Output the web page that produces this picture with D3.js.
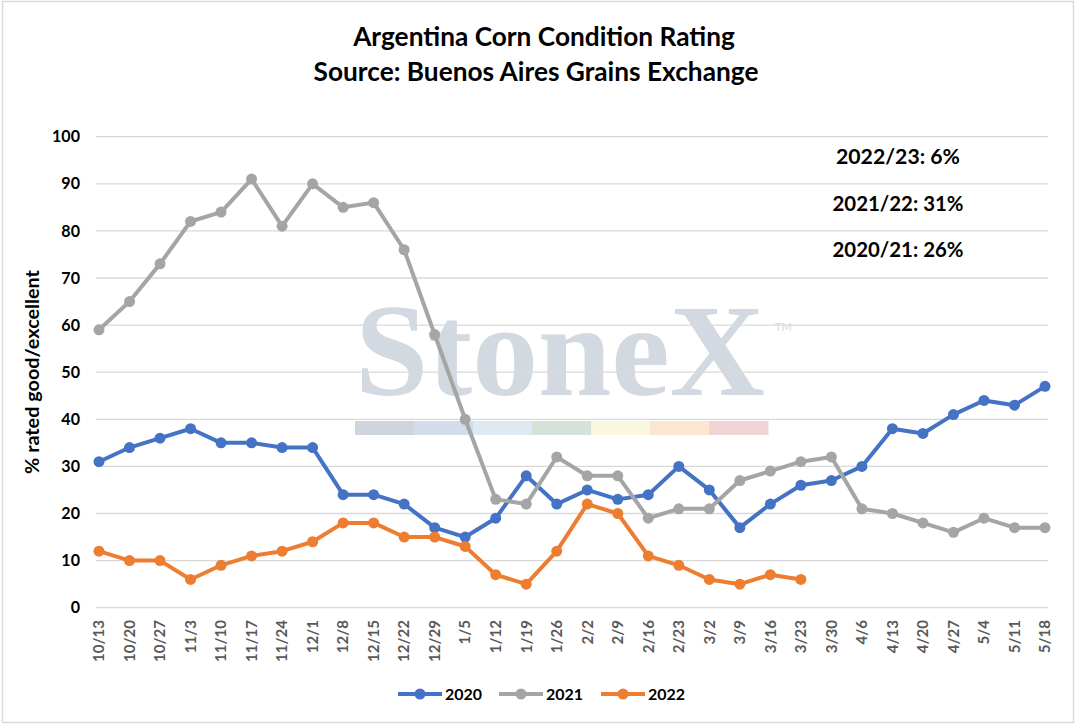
<!DOCTYPE html>
<html><head><meta charset="utf-8">
<script src="https://cdn.jsdelivr.net/npm/d3@7/dist/d3.min.js"></script>
<style>body{margin:0;background:#fff;} svg{display:block;}</style>
</head><body>
<svg id="c" width="1077" height="725"></svg>
<script>
const categories = ["10/13","10/20","10/27","11/3","11/10","11/17","11/24","12/1","12/8","12/15","12/22","12/29","1/5","1/12","1/19","1/26","2/2","2/9","2/16","2/23","3/2","3/9","3/16","3/23","3/30","4/6","4/13","4/20","4/27","5/4","5/11","5/18"];
const values2020 = [31,34,36,38,35,35,34,34,24,24,22,17,15,19,28,22,25,23,24,30,25,17,22,26,27,30,38,37,41,44,43,47];
const values2021 = [59,65,73,82,84,91,81,90,85,86,76,58,40,23,22,32,28,28,19,21,21,27,29,31,32,21,20,18,16,19,17,17];
const values2022 = [12,10,10,6,9,11,12,14,18,18,15,15,13,7,5,12,22,20,11,9,6,5,7,6];
const seriesNames = ["2020","2021","2022"];
const seriesColors = ["#4472C4","#A5A5A5","#ED7D31"];
const yTickValues = [0,10,20,30,40,50,60,70,80,90,100];
const titleLines = ["Argentina Corn Condition Rating","Source: Buenos Aires Grains Exchange"];
const yAxisTitle = "% rated good/excellent";
const annotations = ["2022/23: 6%","2021/22: 31%","2020/21: 26%"];
const watermarkColors = ["#cfd5dd","#d3dde9","#dde9f3","#d3e3da","#fbf7de","#fbe6d2","#f2d4d6"];

const FONT = "Lato, 'Open Sans', 'DejaVu Sans', sans-serif";
const svg = d3.select("#c");

function fit(sel, target){
  const base = +sel.attr("font-size");
  const w = sel.node().getComputedTextLength();
  if (w > 0) sel.attr("font-size", base * target / w);
  return sel;
}

// frame
svg.append("rect").attr("x",2.5).attr("y",1.5).attr("width",1071).attr("height",721)
  .attr("fill","#fff").attr("stroke","#d9d9d9").attr("stroke-width",1.5);

const x = d3.scalePoint().domain(categories).range([99,1045]);
const y = d3.scaleLinear().domain([0,100]).range([607.7,136.7]);

// watermark
const wm = svg.append("g");
fit(wm.append("text").attr("x",355).attr("y",395).attr("font-family","'Liberation Serif','DejaVu Serif',serif")
  .attr("font-weight","bold").attr("font-size",120).attr("fill","#d2d9e1").text("StoneX"), 410);
wm.append("text").attr("x",775).attr("y",331).attr("font-family",FONT).attr("font-size",11)
  .attr("fill","#d5dae0").text("TM");
const segW = (768-355)/watermarkColors.length;
wm.selectAll("rect.seg").data(watermarkColors).join("rect").attr("class","seg")
  .attr("x",(d,i)=>355+i*segW).attr("y",421).attr("width",segW+0.5).attr("height",14).attr("fill",d=>d);

// gridlines
svg.append("g").selectAll("line").data(yTickValues).join("line")
  .attr("x1",96).attr("x2",1048).attr("y1",d=>y(d)).attr("y2",d=>y(d))
  .attr("stroke","#d9d9d9").attr("stroke-width",1.3);

// y tick labels
const yl = svg.append("g").selectAll("text").data(yTickValues).join("text")
  .attr("x",80).attr("y",d=>y(d)).attr("dy","0.35em").attr("text-anchor","end")
  .attr("font-family",FONT).attr("font-weight","bold").attr("font-size",18).attr("fill","#000")
  .text(d=>d);
{
  const n = yl.filter(d=>d===100);
  const w = n.node().getComputedTextLength();
  yl.attr("font-size",18*28/w);
}

// x tick labels
const xl = svg.append("g").selectAll("text").data(categories).join("text")
  .attr("transform",d=>`translate(${x(d)},620) rotate(-90)`)
  .attr("dy","0.35em").attr("text-anchor","end")
  .attr("font-family",FONT).attr("font-weight","bold").attr("font-size",18).attr("fill","#595959").text(d=>d);
{
  const w = xl.filter(d=>d==="10/13").node().getComputedTextLength();
  xl.attr("font-size",18*42/w);
}

// y axis title
fit(svg.append("text").attr("transform","translate(39,372) rotate(-90)").attr("text-anchor","middle")
  .attr("font-family",FONT).attr("font-weight","bold").attr("font-size",18).attr("fill","#000")
  .text(yAxisTitle), 204);

// title
const t2 = svg.append("text").attr("x",536).attr("y",81).attr("text-anchor","middle")
  .attr("font-family",FONT).attr("font-weight","bold").attr("font-size",26).attr("fill","#000").text(titleLines[1]);
fit(t2, 445);
svg.append("text").attr("x",544).attr("y",46).attr("text-anchor","middle")
  .attr("font-family",FONT).attr("font-weight","bold").attr("font-size",t2.attr("font-size")).attr("fill","#000").text(titleLines[0]);

// annotations
const annY = [164,211,257];
const annW = [124,131,131];
annotations.forEach((a,i)=>{
  fit(svg.append("text").attr("x",898).attr("y",annY[i]).attr("text-anchor","middle")
    .attr("font-family",FONT).attr("font-weight","bold").attr("font-size",20).attr("fill","#000").text(a), annW[i]);
});

// series
const allSeries = [values2020, values2021, values2022];
const line = d3.line().x((d,i)=>x(categories[i])).y(d=>y(d));
allSeries.forEach((vals,si)=>{
  const g = svg.append("g");
  g.append("path").datum(vals).attr("d",line).attr("fill","none")
    .attr("stroke",seriesColors[si]).attr("stroke-width",4).attr("stroke-linejoin","round");
  g.selectAll("circle").data(vals).join("circle")
    .attr("cx",(d,i)=>x(categories[i])).attr("cy",d=>y(d)).attr("r",5.5).attr("fill",seriesColors[si]);
});

// legend
const legX = [398,499,601];
seriesNames.forEach((n,i)=>{
  const g = svg.append("g");
  g.append("line").attr("x1",legX[i]).attr("x2",legX[i]+44).attr("y1",694).attr("y2",694)
    .attr("stroke",seriesColors[i]).attr("stroke-width",4);
  g.append("circle").attr("cx",legX[i]+22).attr("cy",694).attr("r",5.5).attr("fill",seriesColors[i]);
  fit(g.append("text").attr("x",legX[i]+47).attr("y",694).attr("dy","0.35em")
    .attr("font-family",FONT).attr("font-weight","bold").attr("font-size",17).attr("fill","#000").text(n), 37);
});
</script>
</body></html>
